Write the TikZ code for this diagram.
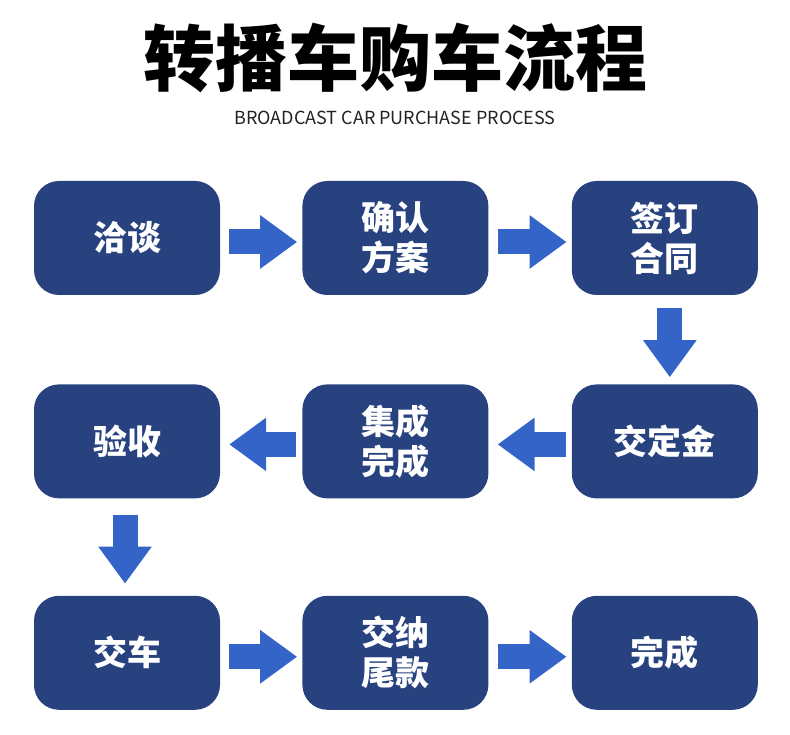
\documentclass[tikz,border=0pt]{standalone}
\usepackage{fontspec}
\usepackage{xcolor}
\usetikzlibrary{arrows.meta,positioning}
\newfontfamily\cjk{Noto Sans CJK SC}
\definecolor{BoxBlue}{HTML}{27427F}
\definecolor{ArrowBlue}{HTML}{3564C9}
\definecolor{TitleGray}{HTML}{222222}

\begin{document}
\begin{tikzpicture}[x=1pt,y=1pt,node distance=82pt and 82pt,
  stepbox/.style={fill=BoxBlue,rounded corners=25pt,minimum width=186pt,minimum height=114pt,
    inner sep=0pt,align=center,text=white,font=\cjk\bfseries\fontsize{34}{40}\selectfont},
  flow/.style={ArrowBlue,line width=25pt,-{Triangle[length=37pt,width=51pt]}}]
\useasboundingbox (0,0) rectangle (790,734);
% title
\node[font=\cjk\bfseries\fontsize{72}{80}\selectfont,text=black] (title) at (395,676) {转播车购车流程};
\node[font=\cjk\fontsize{18}{20}\selectfont,text=TitleGray] (subtitle) at (395,616) {BROADCAST CAR PURCHASE PROCESS};
% row 1
\node[stepbox] (talk) at (127,496) {洽谈};
\node[stepbox,right=82pt of talk] (plan) {确认\\方案};
\node[stepbox,right=83pt of plan] (contract) {签订\\合同};
% row 2
\node[stepbox,below=89pt of contract] (deposit) {交定金};
\node[stepbox,left=83pt of deposit] (build) {集成\\完成};
\node[stepbox,left=82pt of build] (check) {验收};
% row 3
\node[stepbox,below=97pt of check] (deliver) {交车};
\node[stepbox,right=82pt of deliver] (balance) {交纳\\尾款};
\node[stepbox,right=83pt of balance] (done) {完成};
% arrows
\draw[flow] ([xshift=9pt,yshift=-4pt]talk.east) -- ([xshift=-5pt,yshift=-4pt]plan.west);
\draw[flow] ([xshift=9pt,yshift=-4pt]plan.east) -- ([xshift=-5pt,yshift=-4pt]contract.west);
\draw[flow] ([xshift=5pt,yshift=-13pt]contract.south) -- ([xshift=5pt,yshift=7pt]deposit.north);
\draw[flow] ([xshift=-6pt,yshift=-3pt]deposit.west) -- ([xshift=9pt,yshift=-3pt]build.east);
\draw[flow] ([xshift=-6pt,yshift=-3pt]build.west) -- ([xshift=9pt,yshift=-3pt]check.east);
\draw[flow] ([xshift=-2pt,yshift=-16pt]check.south) -- ([xshift=-2pt,yshift=12pt]deliver.north);
\draw[flow] ([xshift=9pt,yshift=-4pt]deliver.east) -- ([xshift=-5pt,yshift=-4pt]balance.west);
\draw[flow] ([xshift=9pt,yshift=-4pt]balance.east) -- ([xshift=-5pt,yshift=-4pt]done.west);
\end{tikzpicture}
\end{document}
